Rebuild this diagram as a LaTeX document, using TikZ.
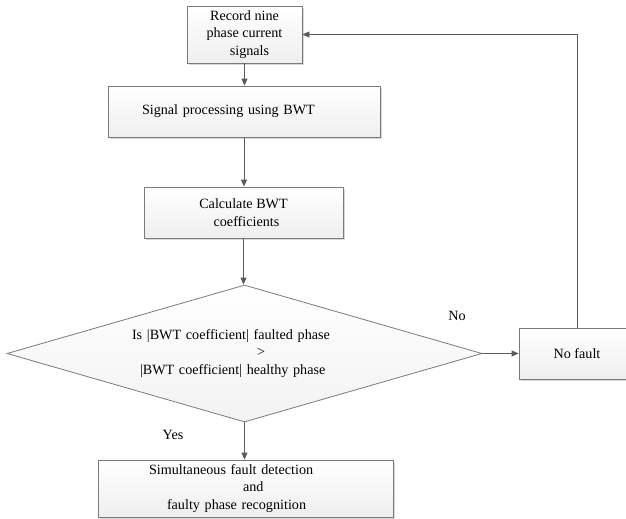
\documentclass[tikz,border=0pt]{standalone}
\usepackage{fontspec}
\setmainfont{Liberation Serif}
\usetikzlibrary{arrows.meta,shapes.geometric,shadows}
\definecolor{lncol}{HTML}{5A5A5A}
\definecolor{bdcol}{HTML}{7A7A7A}
\begin{document}
\begin{tikzpicture}[x=1bp,y=-1bp,
  every node/.style={font=\fontsize{14.2}{17.5}\selectfont, text=black},
  box/.style={draw=bdcol, line width=0.8bp, top color=white, bottom color=gray!13,
    drop shadow={shadow xshift=1.6bp, shadow yshift=-1.6bp, opacity=0.3, fill=gray},
    inner sep=0pt, align=center},
  dia/.style={diamond, draw=bdcol, line width=0.8bp, top color=white, bottom color=gray!10,
    inner sep=0pt, aspect=3.47, align=left},
  conn/.style={draw=lncol, line width=0.9bp, -{Triangle[length=7bp,width=6bp]}},
  lbl/.style={inner sep=0pt}
]
\useasboundingbox (0,0) rectangle (626,519);
\clip (0,0) rectangle (626,519);

\node[box, minimum width=115bp, minimum height=57bp] (b1) at (244.5,34.5)
  {Record nine\\phase current\\\hspace*{10bp}signals};
\node[box, minimum width=272bp, minimum height=51bp, text width=204bp, inner xsep=34bp, align=left] (b2) at (244,111.5)
  {Signal processing using BWT};
\node[box, minimum width=199bp, minimum height=51bp] (b3) at (243.5,212.5)
  {Calculate BWT\\\hspace*{6bp}coefficients};
\node[dia, minimum width=475bp, minimum height=137bp, text width=225bp] (d) at (244.5,353.5)
  {Is |BWT coefficient| faulted phase\\\hspace*{125bp}>\\\hspace*{8bp}|BWT coefficient| healthy phase};
\node[box, minimum width=116bp, minimum height=51bp] (nf) at (577,353.5) {No fault};
\node[box, minimum width=295bp, minimum height=57bp, text width=193bp, inner xsep=51bp, align=left] (b4) at (245.5,488.5)
  {Simultaneous fault detection\\\hspace*{94bp}and\\\hspace*{18bp}faulty phase recognition};

\draw[conn] (b1.south) -- (b1.south |- b2.north);
\draw[conn] (b2.south) -- (b2.south |- b3.north);
\draw[conn] (b3.south) -- (b3.south |- d.north);
\draw[conn] (d.south) -- (d.south |- b4.north);
\draw[conn] (d.east) -- (nf.west);
\draw[conn] (nf.north) |- (b1.east);

\node[lbl] (yes) at (173,435) {Yes};
\node[lbl] (no) at (457,316) {No};
\end{tikzpicture}
\end{document}
